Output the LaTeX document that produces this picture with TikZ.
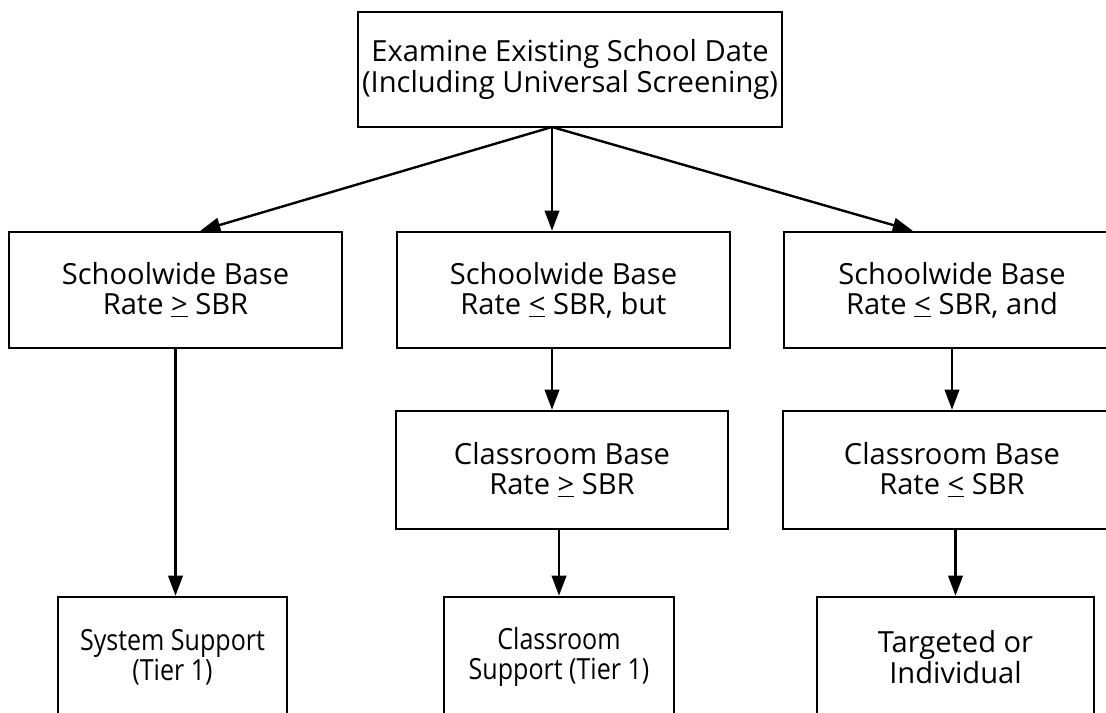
\documentclass[tikz,border=0pt]{standalone}
\usepackage{fontspec}
\setmainfont{Open Sans}
\usetikzlibrary{arrows.meta}

\tikzset{
	box/.style={draw, line width=1.8pt, align=center, inner sep=0pt,
		font=\fontsize{20.7}{21.5}\selectfont},
	squeezed/.style={font=\fontsize{20.7}{21}\selectfont\addfontfeatures{FakeStretch=0.86}},
	link/.style={-{Triangle[length=0.5cm,width=0.36cm]}, line width=1.7pt}
}

\begin{document}
\begin{tikzpicture}[x=0.025cm, y=-0.025cm]
				\clip (0,0) rectangle (1106,712);
				% top box and the three schoolwide cases
				\node[box, minimum width=10.6cm, minimum height=2.88cm,
					font=\fontsize{20.7}{16.4}\selectfont] (exam) at (570,69.5)
					{Examine Existing School Date\\(Including Universal Screening)};
				\node[box, minimum width=8.33cm, minimum height=2.9cm] (sw1) at (175.5,290)
					{Schoolwide Base\\Rate \underline{>} SBR};
				\node[box, minimum width=8.33cm, minimum height=2.9cm] (sw2) at (563.5,290)
					{Schoolwide Base\\Rate \underline{<} SBR, but};
				\node[box, minimum width=8.4cm, minimum height=2.9cm] (sw3) at (952,290)
					{Schoolwide Base\\Rate \underline{<} SBR, and};
				% classroom level
				\node[box, minimum width=8.3cm, minimum height=2.95cm] (cb2) at (562,470)
					{Classroom Base\\Rate \underline{>} SBR};
				\node[box, minimum width=8.45cm, minimum height=2.95cm] (cb3) at (952,470)
					{Classroom Base\\Rate \underline{<} SBR};
				% supports
				\node[box, squeezed, minimum width=5.73cm, minimum height=3cm] (sys) at (172.5,657)
					{System Support\\(Tier 1)};
				\node[box, squeezed, minimum width=5.75cm, minimum height=3cm] (cls) at (559,657)
					{Classroom\\Support (Tier 1)};
				\node[box, minimum width=6.93cm, minimum height=3cm] (tgt) at (955.5,657)
					{Targeted or\\Individual};
				\coordinate (fork) at (552,127);
				\path[link]
				(fork) edge ([xshift=0.62cm]sw1.north)
				(fork) edge (fork |- sw2.north)
				(fork) edge ([xshift=-0.98cm]sw3.north)
				(sw1.south) edge (sw1.south |- sys.north)
				(fork |- sw2.south) edge (fork |- cb2.north)
				(sw3.south) edge (cb3.north)
				(cls.north |- cb2.south) edge (cls.north)
				(tgt.north |- cb3.south) edge (tgt.north);
			\end{tikzpicture}
\end{document}
